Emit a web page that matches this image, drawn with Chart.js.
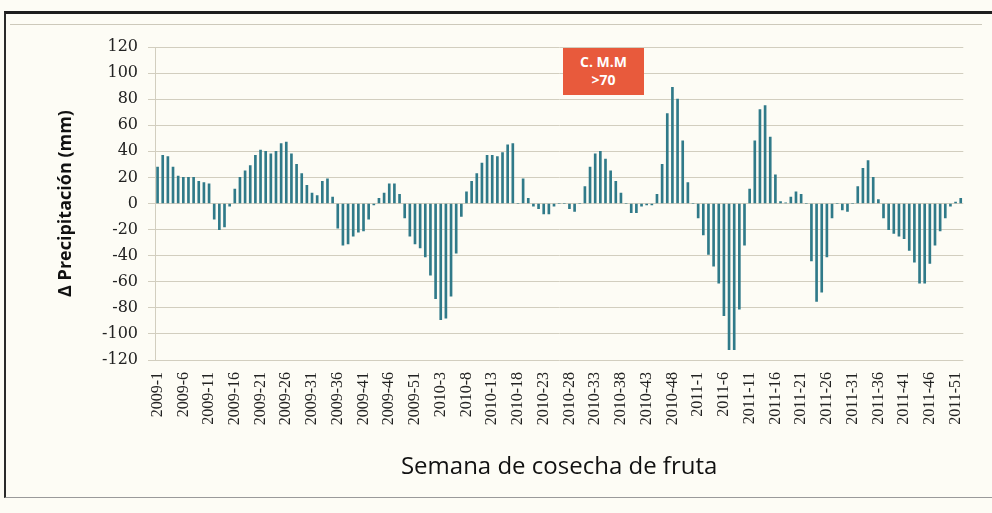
<!DOCTYPE html>
<html>
<head>
<meta charset="utf-8">
<title>Δ Precipitación por semana</title>
<script src="https://cdn.jsdelivr.net/npm/chart.js@4.4.1/dist/chart.umd.min.js"></script>
<style>
  html, body { margin: 0; padding: 0; background: #fdfcf5; }
  #wrap { position: relative; width: 992px; height: 513px; overflow: hidden; }
  .frame {
    position: absolute; left: 4px; top: 11px; width: 990px; height: 487px;
    border-top: 3px solid #1e1e1e; border-left: 2px solid #2a2a2a; border-bottom: 1px solid #9a9a9a;
    box-sizing: border-box;
  }
  .inner-line { position: absolute; left: 10px; top: 24px; width: 972px; border-top: 1px solid #cdc9bb; }
  #chart { position: absolute; left: 0; top: 0; }
  .note {
    position: absolute; left: 563px; top: 48px; width: 81px; height: 47px;
    background: #e85a3c; color: #fff; font: bold 14px 'Open Sans', sans-serif;
    text-align: center; line-height: 18px; padding-top: 5px; box-sizing: border-box;
  }
</style>
</head>
<body>
<div id="wrap">
  <div class="frame"></div>
  <div class="inner-line"></div>
  <canvas id="chart" width="992" height="513"></canvas>
  <div class="note">C. M.M<br>&gt;70</div>
</div>
<script>
// ---- data (mm, weekly deviation) ----
const years = [2009, 2010, 2011];
const weeksPerYear = [53, 52, 52];

const delta2009 = [
  28, 37, 36, 28, 21, 20, 20, 20, 17, 16,
  15, -12, -20, -18, -2, 11, 20, 25, 29, 37,
  41, 40, 38, 40, 46, 47, 38, 30, 23, 14,
  8, 6, 17, 19, 5, -19, -32, -31, -25, -22,
  -21, -12, -1, 4, 8, 15, 15, 7, -11, -25,
  -31, -34, -41
];
const delta2010 = [
  -55, -73, -89, -88, -71, -38, -10, 9, 17, 23,
  31, 37, 37, 36, 39, 45, 46, 0, 19, 4,
  -2, -4, -8, -8, -2, 0, 0, -4, -6, 0,
  13, 28, 38, 40, 34, 25, 17, 8, 0, -7,
  -7, -2, -1, -1, 7, 30, 69, 89, 80, 48,
  16, 0
];
const delta2011 = [
  -11, -24, -39, -48, -61, -86, -112, -112, -81, -32,
  11, 48, 72, 75, 51, 22, 1.5, 0.5, 5, 9,
  7, 0, -44, -75, -68, -41, -11, 0, -5, -6,
  0, 13, 27, 33, 20, 3, -11, -20, -23, -25,
  -27, -36, -45, -61, -61, -46, -32, -21, -11, -2,
  1, 4
];

const yTicks = { min: -120, max: 120, step: 20 };

// week labels "YYYY-W"
const weeks = [];
years.forEach((yr, i) => {
  for (let w = 1; w <= weeksPerYear[i]; w++) weeks.push(yr + '-' + w);
});
const values = [...delta2009, ...delta2010, ...delta2011];

const gridColor = '#d2cebf';
const serif = "'Liberation Serif', 'DejaVu Serif', serif";
const sans = "'Open Sans', 'Noto Sans', sans-serif";

new Chart(document.getElementById('chart'), {
  type: 'bar',
  data: {
    labels: weeks,
    datasets: [{
      label: 'Δ Precipitación',
      data: values,
      backgroundColor: '#307a89',
      barThickness: 2
    }]
  },
  options: {
    responsive: false,
    animation: false,
    layout: { padding: { left: 10, right: 20, top: 47, bottom: 0 } },
    plugins: {
      legend: { display: false },
      tooltip: { enabled: false }
    },
    scales: {
      x: {
        grid: { display: false, drawTicks: false },
        border: { display: false },
        ticks: {
          autoSkip: false,
          minRotation: 90,
          maxRotation: 90,
          padding: 12,
          color: '#222',
          font: { family: serif, size: 16 },
          callback: function (v, i) {
            return i % 5 === 0 ? this.getLabelForValue(v) : '';
          }
        },
        title: {
          display: true,
          text: 'Semana de cosecha de fruta',
          color: '#111',
          font: { family: sans, size: 24 },
          padding: { top: 0, bottom: 31 }
        },
        afterFit: s => { s.height = 153; }
      },
      y: {
        min: yTicks.min,
        max: yTicks.max,
        ticks: {
          stepSize: yTicks.step,
          padding: 10,
          color: '#222',
          font: { family: "'DejaVu Serif', serif", size: 16 }
        },
        grid: { color: gridColor, tickLength: 7 },
        border: { color: gridColor },
        title: {
          display: true,
          text: 'Δ Precipitación (mm)',
          color: '#111',
          font: { family: sans, size: 18, weight: 'bold' },
          padding: { top: 45, bottom: 0 }
        },
        afterFit: s => { s.width = 145; }
      }
    }
  }
});
</script>
</body>
</html>
